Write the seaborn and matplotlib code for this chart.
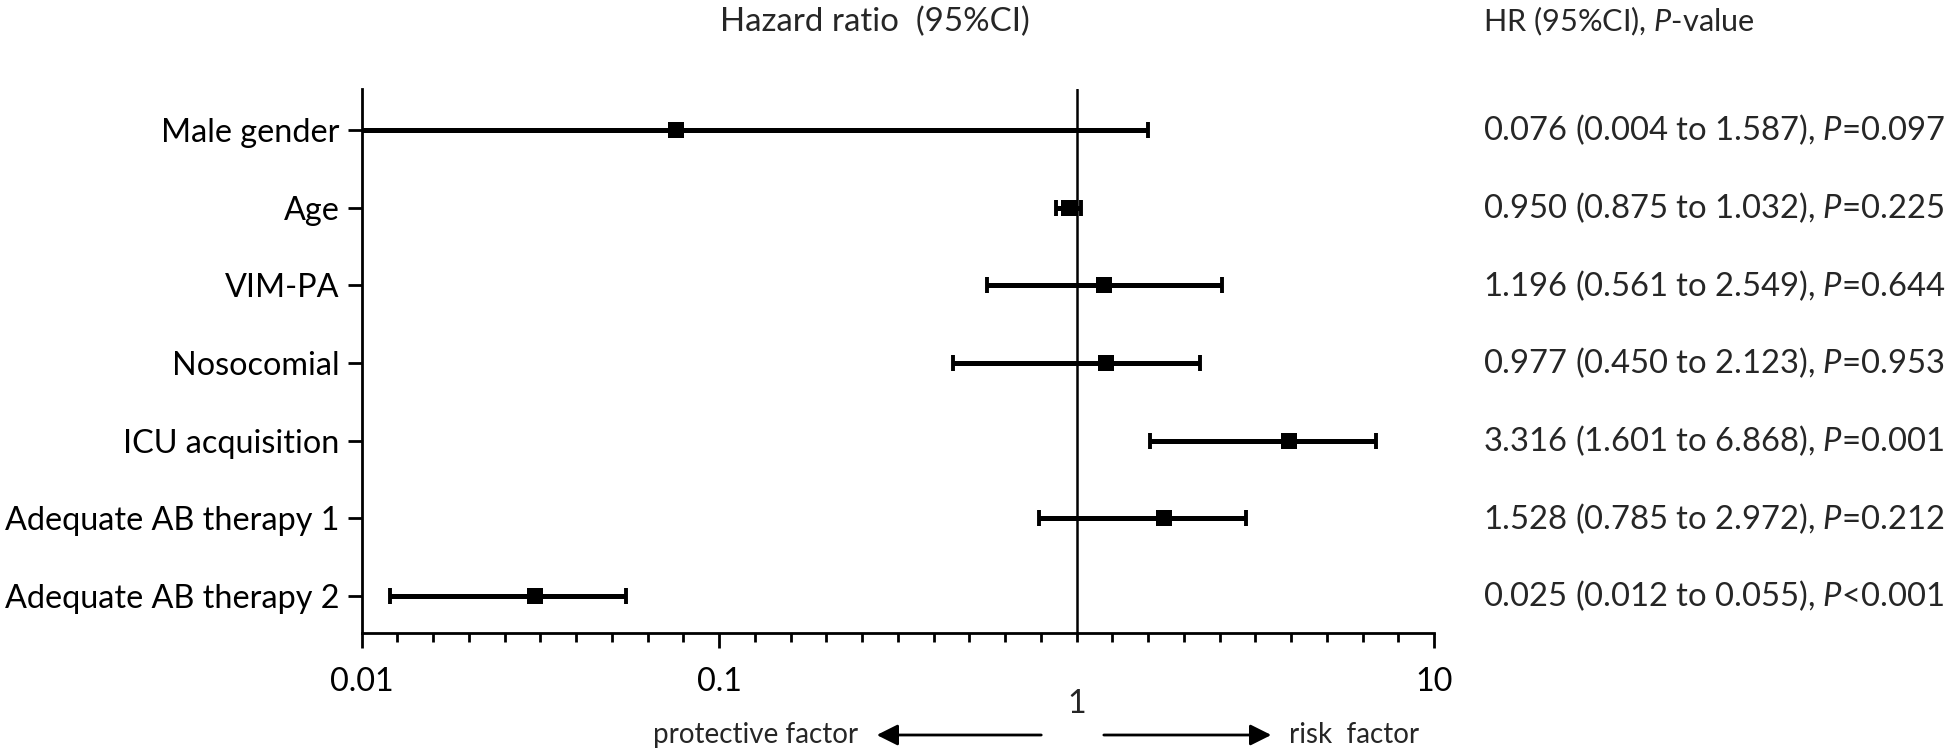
import numpy as np
import matplotlib
matplotlib.use("Agg")
import matplotlib.pyplot as plt
import matplotlib.transforms as mtransforms
import seaborn as sns

# Data (positions, labels as printed)
factors = ["Male gender", "Age", "VIM-PA", "Nosocomial", "ICU acquisition",
           "Adequate AB therapy 1", "Adequate AB therapy 2"]
hr_plot = [0.0757, 0.95, 1.196, 1.21, 3.92, 1.76, 0.0306]
ci_low = [0.004, 0.875, 0.561, 0.450, 1.601, 0.785, 0.012]
ci_high = [1.587, 1.032, 2.549, 2.21, 6.868, 2.972, 0.055]
hr_text = ["0.076 (0.004 to 1.587), $\\mathit{P}$=0.097",
           "0.950 (0.875 to 1.032), $\\mathit{P}$=0.225",
           "1.196 (0.561 to 2.549), $\\mathit{P}$=0.644",
           "0.977 (0.450 to 2.123), $\\mathit{P}$=0.953",
           "3.316 (1.601 to 6.868), $\\mathit{P}$=0.001",
           "1.528 (0.785 to 2.972), $\\mathit{P}$=0.212",
           "0.025 (0.012 to 0.055), $\\mathit{P}$<0.001"]
xtick_vals = [0.01, 0.1, 10]
xtick_labels = ["0.01", "0.1", "10"]

sns.set_style("ticks")
plt.rcParams["font.family"] = ["Lato", "DejaVu Sans"]
plt.rcParams["mathtext.fontset"] = "custom"
plt.rcParams["mathtext.rm"] = "Lato"
plt.rcParams["mathtext.it"] = "Lato:italic"

FS = 23.3
ypos = np.arange(len(factors))

fig = plt.figure(figsize=(19.46, 7.51), dpi=100)
ax = fig.add_axes([0.1858, 0.1571, 0.5511, 0.7244])

# reference line at HR = 1
ax.axvline(1, color="black", lw=1.8, zorder=1)

# confidence intervals
hr = np.array(hr_plot)
xerr = np.vstack([hr - np.array(ci_low), np.array(ci_high) - hr])
ax.errorbar(hr, ypos, xerr=xerr, fmt="none", ecolor="black", elinewidth=3.6,
            capsize=5.5, capthick=2.8, zorder=2)

# point estimates
sns.scatterplot(x=hr_plot, y=ypos, marker="s", s=135, color="black",
                edgecolor="black", linewidth=0, ax=ax, zorder=3)

ax.set_xscale("log")
ax.set_xlim(0.01, 10)
ax.set_ylim(6.477, -0.528)
ax.set_yticks(ypos)
ax.set_yticklabels(factors, fontsize=FS)
ax.set_xticks(xtick_vals)
ax.set_xticklabels(xtick_labels, fontsize=FS)
ax.set_xticks(10 ** np.arange(-2, 1.001, 0.1), minor=True)
ax.xaxis.set_minor_formatter(matplotlib.ticker.NullFormatter())
ax.tick_params(axis="x", which="major", length=10.5, width=2, pad=14, colors="black")
ax.tick_params(axis="x", which="minor", length=6.5, width=2, colors="black")
ax.tick_params(axis="y", length=10, width=2, pad=6, colors="black")
ax.set_xlabel("")
ax.set_ylabel("")
for side in ["top", "right"]:
    ax.spines[side].set_visible(False)
for side in ["left", "bottom"]:
    ax.spines[side].set_linewidth(2)
    ax.spines[side].set_color("black")

# "1" label sits lower than the other tick labels
ax.text(1, -0.13, "1", transform=ax.get_xaxis_transform(), ha="center",
        va="center", fontsize=FS)

# headers
fig.text(0.4496, 0.9587, "Hazard ratio  (95%CI)", ha="center", va="baseline", fontsize=23.8)
fig.text(0.7621, 0.9587, "HR (95%CI), $\\mathit{P}$-value", ha="left", va="baseline", fontsize=22.1)

# right column text
trans = mtransforms.blended_transform_factory(fig.transFigure, ax.transData)
for y, t in zip(ypos, hr_text):
    ax.text(0.7621, y, t, transform=trans, ha="left", va="center", fontsize=23.6, clip_on=False)

# direction arrows
ya = 0.0213
fig.patches.append(matplotlib.patches.FancyArrowPatch(
    (0.5365, ya), (0.4491, ya), transform=fig.transFigure, arrowstyle="-|>",
    mutation_scale=32, lw=2, color="black"))
fig.patches.append(matplotlib.patches.FancyArrowPatch(
    (0.5658, ya), (0.6547, ya), transform=fig.transFigure, arrowstyle="-|>",
    mutation_scale=32, lw=2, color="black"))
fig.text(0.4409, ya, "protective factor", ha="right", va="center", fontsize=20)
fig.text(0.6624, ya, "risk  factor", ha="left", va="center", fontsize=20)

fig.savefig("out.png", dpi=100, facecolor="white")
